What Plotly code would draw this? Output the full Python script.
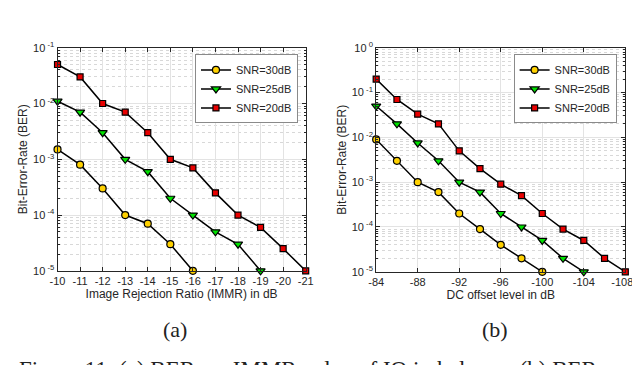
"""BER vs IQ imbalance (IMMR) and DC offset: two log-scale line charts."""

import plotly.graph_objects as go

# ---- data -----------------------------------------------------------------
SNR_LABELS = ["SNR=30dB", "SNR=25dB", "SNR=20dB"]

IMMR_DB = [-10, -11, -12, -13, -14, -15, -16, -17, -18, -19, -20, -21]
BER_IMMR_30 = [1.5e-3, 8e-4, 3e-4, 1e-4, 7e-5, 3e-5, 1e-5]
BER_IMMR_25 = [1.1e-2, 7e-3, 3e-3, 1e-3, 6e-4, 2e-4, 1e-4, 5e-5, 3e-5, 1e-5]
BER_IMMR_20 = [5e-2, 3e-2, 1e-2, 7e-3, 3e-3, 1e-3, 7e-4, 2.5e-4, 1e-4, 6e-5, 2.5e-5, 1e-5]

DC_DB = [-84, -86, -88, -90, -92, -94, -96, -98, -100, -102, -104, -106, -108]
BER_DC_30 = [9e-3, 3e-3, 1e-3, 6e-4, 2e-4, 9e-5, 4e-5, 2e-5, 1e-5]
BER_DC_25 = [5e-2, 2e-2, 7.5e-3, 3e-3, 1e-3, 6e-4, 2e-4, 1e-4, 5e-5, 2e-5, 1e-5]
BER_DC_20 = [0.2, 7e-2, 3.3e-2, 2e-2, 5e-3, 2e-3, 9e-4, 5e-4, 2e-4, 9e-5, 5e-5, 2e-5, 1e-5]

IMMR_TICKS = [-10, -11, -12, -13, -14, -15, -16, -17, -18, -19, -20, -21]
DC_TICKS = [-84, -88, -92, -96, -100, -104, -108]
Y_TICKS_A = [1e-5, 1e-4, 1e-3, 1e-2, 1e-1]
Y_TEXT_A = ["10<sup> -5</sup>", "10<sup> -4</sup>", "10<sup> -3</sup>", "10<sup> -2</sup>", "10<sup> -1</sup>"]
Y_TICKS_B = [1e-5, 1e-4, 1e-3, 1e-2, 1e-1, 1]
Y_TEXT_B = ["10<sup> -5</sup>", "10<sup> -4</sup>", "10<sup> -3</sup>", "10<sup> -2</sup>",
            "10<sup> -1</sup>", "10<sup> 0</sup>"]

# ---- style ----------------------------------------------------------------
W, H = 640, 365
AX_COLOR = "#262626"
FONT = "Liberation Sans, Arial, sans-serif"
SERIF = "Liberation Serif, Times New Roman, serif"
MARKERS = [
    dict(symbol="circle", color="#FFD100", size=7),
    dict(symbol="triangle-down", color="#00E000", size=8),
    dict(symbol="square", color="#E80000", size=6),
]


def px_x(v):
    return v / W


def px_y(v):
    return (H - v) / H


fig = go.Figure()


def add_series(x, ys, xaxis, yaxis, legend):
    for label, y, mk in zip(SNR_LABELS, ys, MARKERS):
        fig.add_trace(go.Scatter(
            x=x[:len(y)], y=y, name=label, mode="lines+markers",
            xaxis=xaxis, yaxis=yaxis, legend=legend,
            line=dict(color="black", width=1.5),
            marker=dict(symbol=mk["symbol"], color=mk["color"], size=mk["size"],
                        line=dict(color="black", width=1.2)),
            cliponaxis=False,
        ))


add_series(IMMR_DB, [BER_IMMR_30, BER_IMMR_25, BER_IMMR_20], "x", "y", "legend")
add_series(DC_DB, [BER_DC_30, BER_DC_25, BER_DC_20], "x2", "y2", "legend2")

common_x = dict(
    showline=True, linecolor=AX_COLOR, linewidth=1, mirror="ticks",
    ticks="inside", ticklen=4, tickcolor=AX_COLOR,
    showgrid=True, gridcolor="#e3e3e3", gridwidth=1, zeroline=False,
    tickfont=dict(family=FONT, size=11, color=AX_COLOR),
    title_font=dict(family=FONT, size=12, color=AX_COLOR),
    title_standoff=3,
)
common_y = dict(
    type="log", showline=True, linecolor=AX_COLOR, linewidth=1, mirror="ticks",
    ticks="inside", ticklen=4, tickcolor=AX_COLOR,
    showgrid=True, gridcolor="#e3e3e3", gridwidth=1, zeroline=False,
    minor=dict(dtick="D1", showgrid=True, gridcolor="#d8d8d8", griddash="dot",
               ticks="inside", ticklen=2, tickcolor=AX_COLOR),
    tickfont=dict(family=FONT, size=11, color=AX_COLOR),
    title_font=dict(family=FONT, size=12, color=AX_COLOR),
    title_standoff=2,
)
legend_style = dict(
    xanchor="right", yanchor="top", y=px_y(40),
    bgcolor="white", bordercolor="#8a8a8a", borderwidth=1,
    font=dict(family=FONT, size=11, color=AX_COLOR),
    tracegroupgap=0, itemwidth=30,
)

# last right-hand label sits on the page edge: pad it so it stays visible
dc_text = [str(v) for v in DC_TICKS]
dc_text[-1] = dc_text[-1] + "\u00a0\u00a0"

fig.update_layout(
    width=W, height=H,
    margin=dict(l=0, r=0, t=0, b=0),
    paper_bgcolor="white", plot_bgcolor="white",
    xaxis=dict(common_x, domain=[px_x(43), px_x(300)], anchor="y",
               range=[-10, -21], tickvals=IMMR_TICKS,
               ticktext=[str(v) for v in IMMR_TICKS],
               title_text="Image Rejection Ratio (IMMR) in dB"),
    yaxis=dict(common_y, domain=[px_y(265), px_y(33)], anchor="x",
               range=[-5, -1], tickvals=Y_TICKS_A, ticktext=Y_TEXT_A,
               title_text="Bit-Error-Rate (BER)"),
    xaxis2=dict(common_x, domain=[px_x(373), px_x(631)], anchor="y2",
                range=[-84, -108], tickvals=DC_TICKS, ticktext=dc_text,
                title_text="DC offset level in dB"),
    yaxis2=dict(common_y, domain=[px_y(266), px_y(33)], anchor="x2",
                range=[-5, 0], tickvals=Y_TICKS_B, ticktext=Y_TEXT_B,
                title_text="Bit-Error-Rate (BER)"),
    legend=dict(legend_style, x=px_x(292)),
    legend2=dict(legend_style, x=px_x(622)),
    showlegend=True,
)

# sub-figure labels and the (cropped) figure caption
for text, xc in [("(a)", 165), ("(b)", 496)]:
    fig.add_annotation(x=px_x(xc), y=px_y(326), xref="paper", yref="paper",
                       text=text, showarrow=False, xanchor="center", yanchor="middle",
                       font=dict(family=SERIF, size=22, color="#222"))

fig.add_annotation(x=px_x(1), y=px_y(353), xref="paper", yref="paper",
                   text="Figure 11: (a) BER vs. IMMR value of IQ imbalance; (b) BER vs",
                   showarrow=False, xanchor="left", yanchor="top",
                   font=dict(family=SERIF, size=23, color="#222"))

fig.write_html("out.html")
